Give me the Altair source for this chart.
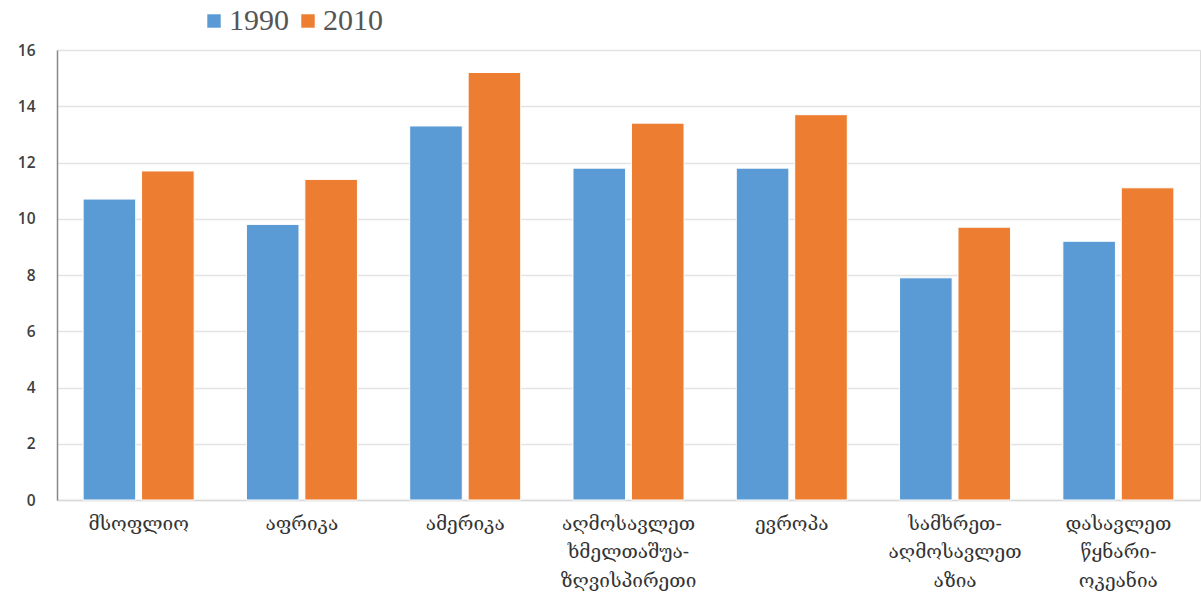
import altair as alt
import pandas as pd

regions = [
    "მსოფლიო",
    "აფრიკა",
    "ამერიკა",
    "აღმოსავლეთ|ხმელთაშუა-|ზღვისპირეთი",
    "ევროპა",
    "სამხრეთ-|აღმოსავლეთ|აზია",
    "დასავლეთ|წყნარი-|ოკეანია",
]
years = ["1990", "2010"]
values_1990 = [10.7, 9.8, 13.3, 11.8, 11.8, 7.9, 9.2]
values_2010 = [11.7, 11.4, 15.2, 13.4, 13.7, 9.7, 11.1]
colors = ["#5B9BD5", "#ED7D31"]

rows = []
for r, a, b in zip(regions, values_1990, values_2010):
    rows.append({"region": r, "year": "1990", "value": a})
    rows.append({"region": r, "year": "2010", "value": b})
df = pd.DataFrame(rows)

chart = (
    alt.Chart(df)
    .mark_bar(stroke="white", strokeWidth=1)
    .encode(
        x=alt.X(
            "region:N",
            sort=regions,
            title=None,
            scale=alt.Scale(paddingInner=0.32, paddingOuter=0.16),
            axis=alt.Axis(
                labelAngle=0,
                labelExpr="split(datum.label, '|')",
                labelFont="DejaVu Serif, DejaVu Sans",
                labelFontSize=19,
                labelColor="#333333",
                labelLineHeight=28.5,
                labelPadding=14,
                labelLimit=400,
                ticks=False,
                domainColor="#d9d9d9",
                domainWidth=1.5,
                grid=False,
            ),
        ),
        xOffset=alt.XOffset("year:N", scale=alt.Scale(paddingInner=0.1)),
        y=alt.Y(
            "value:Q",
            title=None,
            scale=alt.Scale(domain=[0, 16], nice=False),
            axis=alt.Axis(
                values=[0, 2, 4, 6, 8, 10, 12, 14, 16],
                labelFont="Open Sans",
                labelFontSize=15.5,
                labelFontWeight=600,
                labelColor="#404040",
                labelPadding=22,
                ticks=False,
                domainColor="#888888",
                domainWidth=1.5,
                gridColor="#e3e3e3",
                gridWidth=1.5,
            ),
        ),
        color=alt.Color(
            "year:N",
            scale=alt.Scale(domain=years, range=colors),
            legend=alt.Legend(
                title=None,
                orient="none",
                legendX=142,
                legendY=-44,
                direction="horizontal",
                symbolType="square",
                symbolSize=180,
                symbolStrokeWidth=0,
                labelFont="Liberation Serif",
                labelFontSize=30,
                labelColor="#555555",
                columnPadding=4,
                labelOffset=0,
            ),
        ),
    )
    .properties(
        width=1143,
        height=450,
        autosize=alt.AutoSizeParams(type="none"),
        padding={"left": 57, "top": 50, "right": 1, "bottom": 100},
    )
    .configure_view(stroke=None)
    .configure(background="white")
)

chart.save("out.html", embed_options={"renderer": "svg", "actions": False})
